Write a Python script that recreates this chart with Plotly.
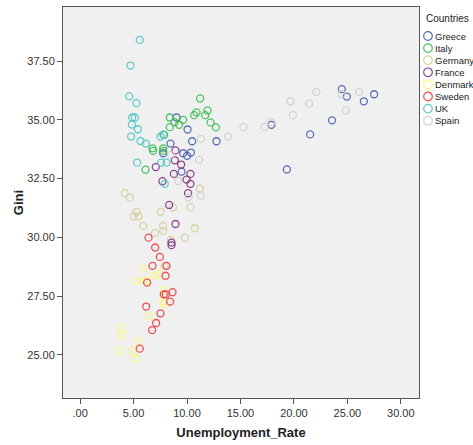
import plotly.graph_objects as go

countries = ["Greece", "Italy", "Germany", "France", "Denmark", "Sweden", "UK", "Spain"]
colors = ["#3E58AC", "#2EB848", "#D3CE97", "#7C287D", "#FBF873", "#EF3338", "#48C2C5", "#CCCCCC"]

greece_u = [9.02, 10.05, 8.46, 7.77, 9.64, 10.36, 10.01, 9.49, 10.48, 12.76, 17.9, 19.34, 21.52, 23.57, 24.48, 24.95, 26.54, 27.5]
greece_g = [35.1, 34.59, 33.99, 33.58, 33.58, 33.61, 33.47, 32.8, 34.09, 34.09, 34.79, 32.89, 34.38, 34.98, 36.31, 35.99, 35.79, 36.09]

italy_u = [11.23, 10.89, 10.67, 11.92, 11.7, 12.2, 12.7, 8.39, 8.83, 9.26, 9.64, 8.39, 7.86, 7.77, 7.77, 6.77, 6.83, 6.12]
italy_g = [35.91, 35.32, 35.2, 35.4, 35.2, 34.89, 34.68, 35.1, 34.9, 34.79, 35.0, 34.69, 34.36, 33.79, 33.68, 33.79, 33.68, 32.88]

germany_u = [4.18, 4.65, 5.28, 5.02, 5.46, 5.9, 6.99, 7.55, 7.77, 7.77, 8.7, 10.33, 10.73, 9.79, 8.48, 11.2, 7.92]
germany_g = [31.88, 31.69, 31.09, 30.89, 30.89, 30.49, 30.18, 31.09, 30.49, 30.28, 31.28, 31.28, 30.39, 29.99, 29.89, 32.08, 28.79]

france_u = [8.92, 8.86, 7.08, 9.45, 8.77, 10.32, 9.95, 10.32, 7.7, 10.1, 8.33, 8.92, 8.55, 8.55]
france_g = [33.7, 33.28, 32.99, 33.1, 32.7, 32.7, 32.46, 32.28, 32.39, 31.88, 31.38, 30.57, 29.78, 29.67]

denmark_u = [5.87, 5.18, 5.99, 6.2, 6.99, 7.36, 7.83, 7.77, 7.83, 6.43, 3.81, 3.93, 5.43, 3.71, 4.87, 5.21]
denmark_g = [28.67, 28.16, 28.16, 28.16, 28.37, 28.48, 27.77, 27.27, 27.16, 26.66, 26.16, 25.85, 25.57, 25.16, 25.16, 24.86]

sweden_u = [6.4, 7.02, 7.46, 6.77, 8.08, 7.99, 6.27, 8.64, 7.83, 8.02, 8.42, 6.18, 7.52, 7.11, 6.74, 5.58]
sweden_g = [29.99, 29.57, 29.17, 28.79, 28.79, 28.37, 28.08, 27.67, 27.58, 27.58, 27.27, 27.06, 26.77, 26.36, 26.06, 25.27]

uk_u = [5.58, 4.71, 4.59, 5.27, 4.87, 5.12, 4.84, 5.4, 4.77, 5.65, 6.15, 7.52, 7.77, 7.58, 8.08, 5.33, 7.92]
uk_g = [38.4, 37.31, 36.0, 35.71, 35.1, 35.1, 34.8, 34.6, 34.29, 34.1, 33.99, 34.29, 34.37, 33.18, 33.18, 33.18, 32.28]

spain_u = [8.5, 9.17, 10.14, 11.3, 11.13, 11.29, 13.85, 15.28, 17.25, 17.9, 19.68, 19.9, 21.42, 22.1, 24.45, 24.86, 26.1]
spain_g = [33.51, 32.4, 31.7, 31.78, 33.3, 34.19, 34.29, 34.69, 34.7, 34.9, 35.79, 35.2, 35.69, 36.19, 36.09, 35.4, 36.19]

x_ticks = [0, 5, 10, 15, 20, 25, 30]
x_tick_text = [".00", "5.00", "10.00", "15.00", "20.00", "25.00", "30.00"]
y_ticks = [25, 27.5, 30, 32.5, 35, 37.5]
y_tick_text = ["25.00", "27.50", "30.00", "32.50", "35.00", "37.50"]

legend_title = "Countries"

series = [
    (greece_u, greece_g), (italy_u, italy_g), (germany_u, germany_g), (france_u, france_g),
    (denmark_u, denmark_g), (sweden_u, sweden_g), (uk_u, uk_g), (spain_u, spain_g),
]

fig = go.Figure()
for i, name in enumerate(countries):
    xs, ys = series[i]
    fig.add_trace(go.Scatter(
        x=xs, y=ys, mode="markers", name=name, showlegend=False,
        marker=dict(symbol="circle-open", size=7, color=colors[i], opacity=0.85,
                    line=dict(width=1.3, color=colors[i])),
    ))

# --- compact SPSS-style legend (layout geometry in pixels of the 473x445 page) ---
W, H = 473, 445
M_L, M_R, M_T, M_B = 63, 54, 7, 47
plot_w = W - M_L - M_R
plot_h = H - M_T - M_B


def px_to_paper(px, py):
    return (px - M_L) / plot_w, (H - M_B - py) / plot_h


annotations = []
shapes = []
tx, ty = px_to_paper(424, 18)
annotations.append(dict(
    text=legend_title, x=tx, y=ty, xref="paper", yref="paper",
    xanchor="left", yanchor="middle", showarrow=False,
    font=dict(size=10, color="#222222"),
))
first_row_y, row_gap = 36, 12.1
sym_x, text_x = 428, 433
for i, name in enumerate(countries):
    row_y = first_row_y + i * row_gap
    sx, sy = px_to_paper(sym_x, row_y)
    shapes.append(dict(
        type="circle", xref="paper", yref="paper",
        xsizemode="pixel", ysizemode="pixel", xanchor=sx, yanchor=sy,
        x0=-4.3, x1=4.3, y0=-4.3, y1=4.3,
        line=dict(color=colors[i], width=1.2), opacity=0.9,
    ))
    lx, ly = px_to_paper(text_x, row_y)
    annotations.append(dict(
        text=name, x=lx, y=ly, xref="paper", yref="paper",
        xanchor="left", yanchor="middle", showarrow=False,
        font=dict(size=9.5, color="#222222"),
    ))

font_family = "Liberation Sans, Arial, sans-serif"
fig.update_layout(
    width=W, height=H,
    margin=dict(l=M_L, r=M_R, t=M_T, b=M_B, autoexpand=False),
    paper_bgcolor="white",
    plot_bgcolor="#F0F0F0",
    font=dict(family=font_family, size=11, color="#333333"),
    showlegend=False,
    annotations=annotations,
    shapes=shapes,
    xaxis=dict(
        range=[-1.6, 31.7], tickvals=x_ticks, ticktext=x_tick_text,
        showgrid=False, zeroline=False,
        showline=True, linecolor="#555555", linewidth=1, mirror=True,
        ticks="outside", ticklen=5, tickcolor="#555555",
        tickfont=dict(size=11, color="#333333"),
        title=dict(text="<b>Unemployment_Rate</b>", font=dict(size=13, color="#222222"), standoff=9),
    ),
    yaxis=dict(
        range=[23.17, 39.8], tickvals=y_ticks, ticktext=y_tick_text,
        showgrid=False, zeroline=False,
        showline=True, linecolor="#555555", linewidth=1, mirror=True,
        ticks="outside", ticklen=5, tickcolor="#555555", ticklabelstandoff=0,
        tickfont=dict(size=11, color="#333333"),
        title=dict(text="<b>Gini</b>", font=dict(size=13, color="#222222"), standoff=0),
    ),
)

fig.write_html("out.html")
